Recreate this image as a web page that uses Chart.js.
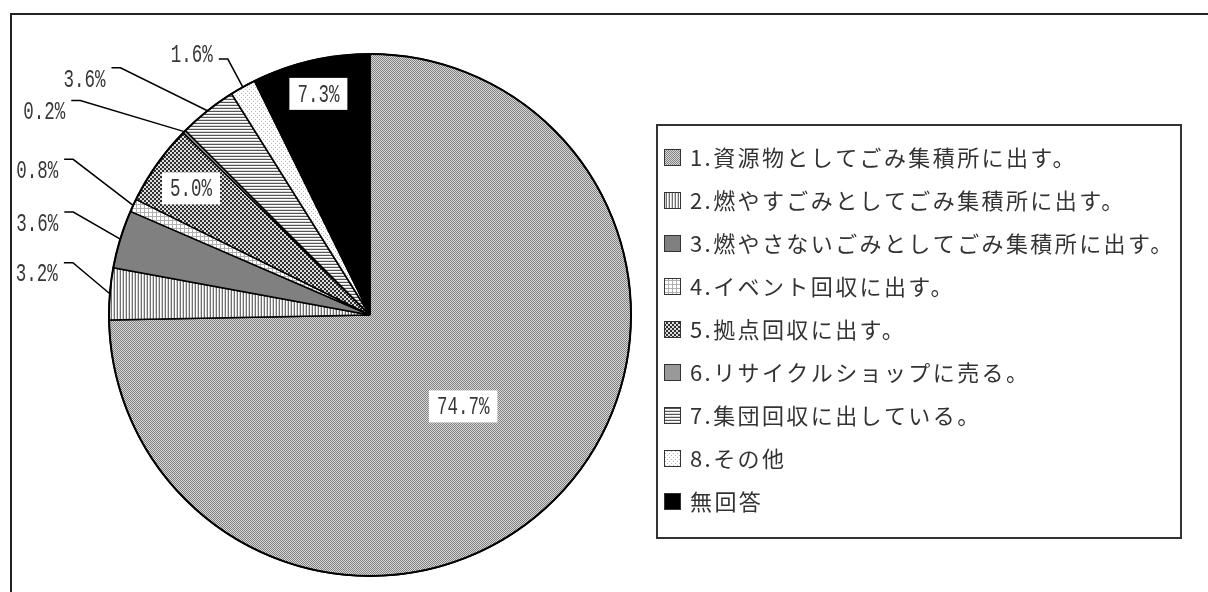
<!DOCTYPE html>
<html lang="ja">
<head>
<meta charset="utf-8">
<script src="https://cdn.jsdelivr.net/npm/chart.js@4.4.1/dist/chart.umd.min.js"></script>
<style>
  body { margin: 0; background: #fff; }
  canvas { display: block; }
</style>
</head>
<body>
<canvas id="myChart" width="1208" height="592"></canvas>
<script>
const categories = [
  '1.資源物としてごみ集積所に出す。',
  '2.燃やすごみとしてごみ集積所に出す。',
  '3.燃やさないごみとしてごみ集積所に出す。',
  '4.イベント回収に出す。',
  '5.拠点回収に出す。',
  '6.リサイクルショップに売る。',
  '7.集団回収に出している。',
  '8.その他',
  '無回答'
];
const shares = [74.7, 3.2, 3.6, 0.8, 5.0, 0.2, 3.6, 1.6, 7.3];

// where each value label goes: inside the slice at a fraction of the radius,
// or outside at the end of a leader line bent [dx, dy] away from the rim
const labelSpots = [
  { inside: 0.5 },
  { bend: [-37, -31], textDy: 11 },
  { bend: [-47, -27], textDy: 11 },
  { bend: [-60, -46], textDy: 11 },
  { inside: 0.84 },
  { bend: [-104, -31], textDy: 11 },
  { bend: [-87, -43], textDy: 12 },
  { bend: [-15, -28], textDy: -5 },
  { inside: 0.87 }
];

// monochrome fill patterns, one per answer
function tile(w, h, paint) {
  const c = document.createElement('canvas');
  c.width = w; c.height = h;
  const g = c.getContext('2d');
  g.fillStyle = '#fff';
  g.fillRect(0, 0, w, h);
  paint(g);
  return g.createPattern(c, 'repeat');
}
function px(g, col, x, y, w, h) { g.fillStyle = col; g.fillRect(x, y, w || 1, h || 1); }

const fills = [
  tile(2, 2, g => { px(g, '#d8d8d8', 0, 0, 2, 2); px(g, '#808080', 0, 0); px(g, '#808080', 1, 1); }),
  tile(3, 1, g => { px(g, '#707070', 0, 0); px(g, '#d0d0d0', 2, 0); }),
  '#808080',
  tile(4, 4, g => { px(g, '#b0b0b0', 0, 0, 4, 1); px(g, '#b0b0b0', 0, 0, 1, 4); }),
  tile(4, 4, g => { px(g, '#dcdcdc', 0, 0, 4, 4); px(g, '#303030', 0, 0, 2, 2); px(g, '#303030', 2, 2, 2, 2); }),
  '#999999',
  tile(1, 3, g => { px(g, '#555', 0, 0); px(g, '#d8d8d8', 0, 2); }),
  tile(4, 4, g => { px(g, '#b8b8b8', 1, 1); px(g, '#b8b8b8', 3, 3); }),
  '#000000'
];

const valueFont = '25px "Liberation Mono"';
const squeeze = 0.7;

function narrowText(ctx, str, x, y, align) {
  ctx.save();
  ctx.font = valueFont;
  ctx.textBaseline = 'middle';
  ctx.textAlign = 'left';
  const w = ctx.measureText(str).width * squeeze;
  const left = align === 'right' ? x - w : align === 'center' ? x - w / 2 : x;
  ctx.translate(left, y);
  ctx.scale(squeeze, 1);
  ctx.fillStyle = '#383838';
  ctx.fillText(str, 0, 1);
  ctx.restore();
  return w;
}

const pieLabels = {
  id: 'pieLabels',
  afterDatasetsDraw(chart) {
    const ctx = chart.ctx;
    const arcs = chart.getDatasetMeta(0).data;
    ctx.save();
    // heavier outline round the rim
    const a0 = arcs[0];
    ctx.beginPath();
    ctx.arc(a0.x, a0.y, a0.outerRadius, 0, Math.PI * 2);
    ctx.lineWidth = 2;
    ctx.strokeStyle = '#000';
    ctx.stroke();

    arcs.forEach((arc, i) => {
      const spot = labelSpots[i];
      const mid = (arc.startAngle + arc.endAngle) / 2;
      const text = shares[i].toFixed(1) + '%';
      if (spot.inside) {
        const r = arc.outerRadius * spot.inside;
        const cx = arc.x + Math.cos(mid) * r;
        const cy = arc.y + Math.sin(mid) * r;
        ctx.font = valueFont;
        const w = ctx.measureText(text).width * squeeze + 16;
        const h = 32;
        ctx.fillStyle = '#fff';
        ctx.fillRect(cx - w / 2, cy - h / 2, w, h);
        narrowText(ctx, text, cx, cy, 'center');
      } else {
        const ex = arc.x + Math.cos(mid) * arc.outerRadius;
        const ey = arc.y + Math.sin(mid) * arc.outerRadius;
        const bx = ex + spot.bend[0];
        const by = ey + spot.bend[1];
        ctx.beginPath();
        ctx.moveTo(ex, ey);
        ctx.lineTo(bx, by);
        ctx.lineTo(bx - 9, by);
        ctx.lineWidth = 1.5;
        ctx.strokeStyle = '#000';
        ctx.stroke();
        narrowText(ctx, text, bx - 15, by + spot.textDy, 'right');
      }
    });
    ctx.restore();
  },
  afterDraw(chart) {
    const ctx = chart.ctx;
    ctx.save();
    // outer frame
    ctx.strokeStyle = '#222';
    ctx.lineWidth = 2;
    ctx.strokeRect(11, 14, 1300, 700);
    // legend box
    ctx.fillStyle = '#fff';
    ctx.fillRect(657, 125, 524, 413);
    ctx.strokeStyle = '#333';
    ctx.strokeRect(657, 125, 524, 413);
    ctx.font = '22px "Noto Sans CJK JP"';
    ctx.letterSpacing = '2.4px';
    ctx.textBaseline = 'middle';
    categories.forEach((name, i) => {
      const y = 157 + i * 43;
      ctx.fillStyle = fills[i];
      ctx.fillRect(664, y - 8, 17, 17);
      ctx.lineWidth = 1;
      ctx.strokeStyle = '#333';
      ctx.strokeRect(664.5, y - 7.5, 16, 16);
      ctx.fillStyle = '#333';
      ctx.fillText(name, 690, y + 1);
    });
    ctx.restore();
  }
};

new Chart(document.getElementById('myChart'), {
  type: 'pie',
  data: {
    labels: categories,
    datasets: [{
      data: shares,
      backgroundColor: fills,
      borderColor: '#000',
      borderWidth: 1.5
    }]
  },
  options: {
    responsive: false,
    animation: false,
    radius: 261,
    layout: { padding: { left: 50, right: 518, top: 48, bottom: 10 } },
    plugins: {
      legend: { display: false },
      tooltip: { enabled: false }
    }
  },
  plugins: [pieLabels]
});
</script>
</body>
</html>
